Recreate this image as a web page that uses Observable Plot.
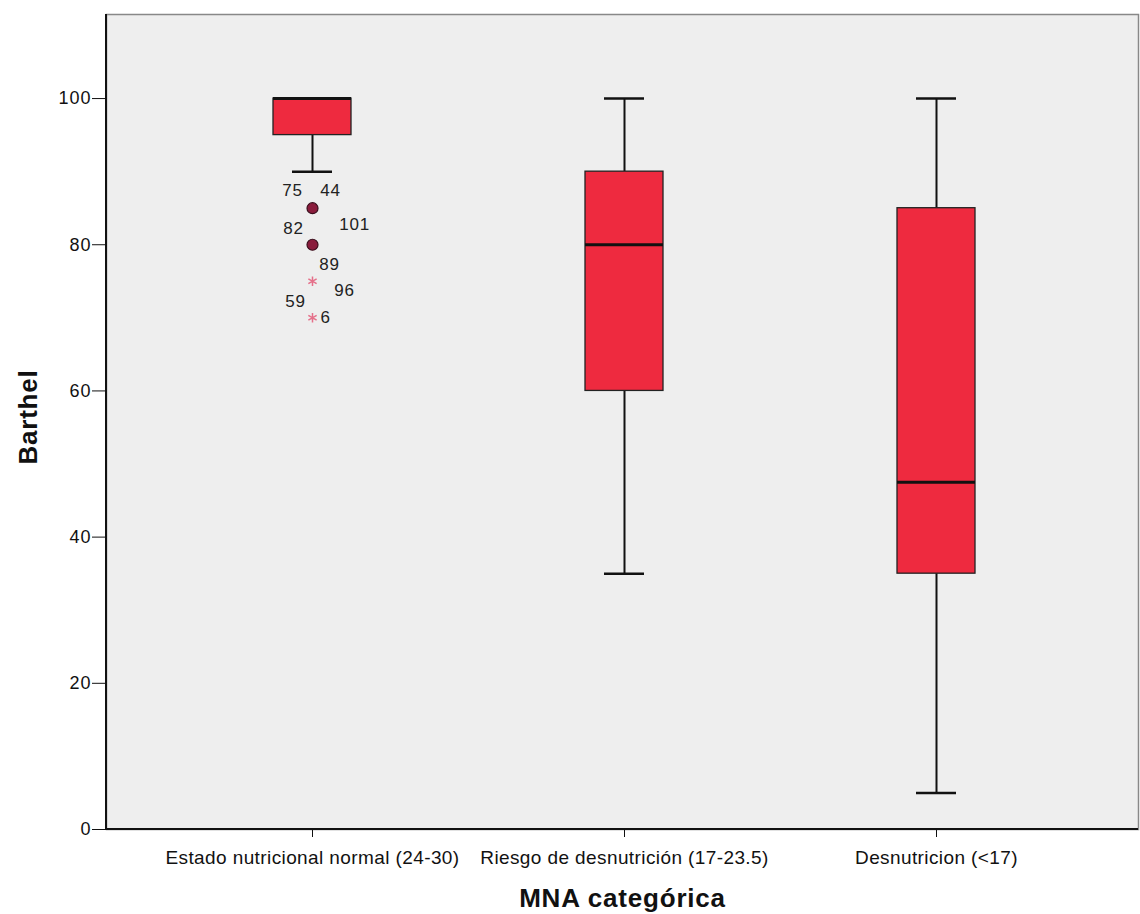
<!DOCTYPE html>
<html><head><meta charset="utf-8">
<script src="https://cdn.jsdelivr.net/npm/d3@7"></script>
<script src="https://cdn.jsdelivr.net/npm/@observablehq/plot@0.6"></script>
<style>
body{margin:0;background:#fff;}
svg text{font-family:"Liberation Sans",Arial,sans-serif;}
svg g[aria-label="x-axis tick label"] text{letter-spacing:0.4px;}
svg g[aria-label="y-axis tick label"] text{letter-spacing:1px;}
svg g[aria-label="text"] text{letter-spacing:0.8px;}
</style>
</head><body><div id="chart"></div>
<script>
const categories = ["Estado nutricional normal (24-30)", "Riesgo de desnutrición (17-23.5)", "Desnutricion (<17)"];
const whiskerLow = [90, 35, 5];
const q1 = [95, 60, 35];
const median = [100, 80, 47.5];
const q3 = [100, 90, 85];
const whiskerHigh = [100, 100, 100];
const outlierValues = [85, 80];
const extremeValues = [75, 70];
const caseLabels = ["75", "44", "82", "101", "89", "96", "59", "6"];
const caseLabelValues = [85, 85, 80, 80, 75, 75, 70, 70];
const yTicks = [0, 20, 40, 60, 80, 100];

const boxes = categories.map((c, i) => ({category: c, lo: whiskerLow[i], q1: q1[i], med: median[i], q3: q3[i], hi: whiskerHigh[i]}));
const outliers = outlierValues.map(v => ({category: categories[0], value: v}));
const extremes = extremeValues.map(v => ({category: categories[0], value: v}));
const labelOffsets = [[-20,-18],[18,-18],[-19,-16],[42,-20],[17,-17],[32,9],[-17,-16],[13,0]];

const RED = "#ee2a3f";
const W = 1140, H = 914;

const edgeLines = (index, scales, values, dims) => {
  const g = document.createElementNS("http://www.w3.org/2000/svg", "g");
  const l = dims.marginLeft, b = dims.height - dims.marginBottom, r = dims.width - dims.marginRight, t = dims.marginTop;
  g.innerHTML = `<line x1="${l}" x2="${l}" y1="${t}" y2="${b}" stroke="#111" stroke-width="2"/>` +
                `<line x1="${l}" x2="${r}" y1="${b}" y2="${b}" stroke="#111" stroke-width="2"/>`;
  return g;
};

const chart = Plot.plot({
  width: W, height: H,
  marginLeft: 106, marginRight: 2, marginTop: 14, marginBottom: 85,
  style: {background: "#ffffff", fontFamily: "Liberation Sans, Arial, sans-serif", color: "#111"},
  x: {type: "band", domain: categories, paddingInner: 0.75, paddingOuter: 0.52, insetLeft: 4},
  y: {domain: [0, 111.5]},
  marks: [
    Plot.frame({fill: "#eeeeee", stroke: "#888888", strokeWidth: 1.5}),
    Plot.ruleX(boxes, {x: "category", y1: "lo", y2: "q1", stroke: "#111", strokeWidth: 2}),
    Plot.ruleX(boxes, {x: "category", y1: "q3", y2: "hi", stroke: "#111", strokeWidth: 2}),
    Plot.tickY(boxes, {x: "category", y: "lo", insetLeft: 19, insetRight: 19, stroke: "#111", strokeWidth: 2.5}),
    Plot.tickY(boxes, {x: "category", y: "hi", insetLeft: 19, insetRight: 19, stroke: "#111", strokeWidth: 2.5}),
    Plot.barY(boxes, {x: "category", y1: "q1", y2: "q3", fill: RED, stroke: "#222", strokeWidth: 1.3}),
    Plot.tickY(boxes, {x: "category", y: "med", stroke: "#111", strokeWidth: 3}),
    Plot.dot(outliers, {x: "category", y: "value", r: 5.5, fill: "#8a1c3c", stroke: "#3a0e1c", strokeWidth: 1.2}),
    Plot.dot(extremes, {x: "category", y: "value", r: 4.5, symbol: "asterisk", stroke: "#e5708a", strokeWidth: 1.5}),
    ...caseLabels.map((t, i) => Plot.text([{category: categories[0], value: caseLabelValues[i], label: t}], {
      x: "category", y: "value", text: "label", dx: labelOffsets[i][0], dy: labelOffsets[i][1],
      fontSize: 17, fill: "#222"
    })),
    Plot.axisY({ticks: yTicks, tickSize: 14, tickPadding: 1, fontSize: 18, label: null, stroke: "#111"}),
    Plot.axisX({tickSize: 8, tickPadding: 13, fontSize: 19, label: null, stroke: "#111"}),
    edgeLines,
    Plot.text(["Barthel"], {text: d => d, frameAnchor: "left", textAnchor: "middle", dx: -78, dy: -5, rotate: -90, fontWeight: "bold", fontSize: 26, fill: "#111"}),
    Plot.text(["MNA categórica"], {text: d => d, frameAnchor: "bottom", textAnchor: "middle", dy: 77, fontWeight: "bold", fontSize: 26, fill: "#111"})
  ]
});
document.getElementById("chart").appendChild(chart);
</script>
</body></html>
